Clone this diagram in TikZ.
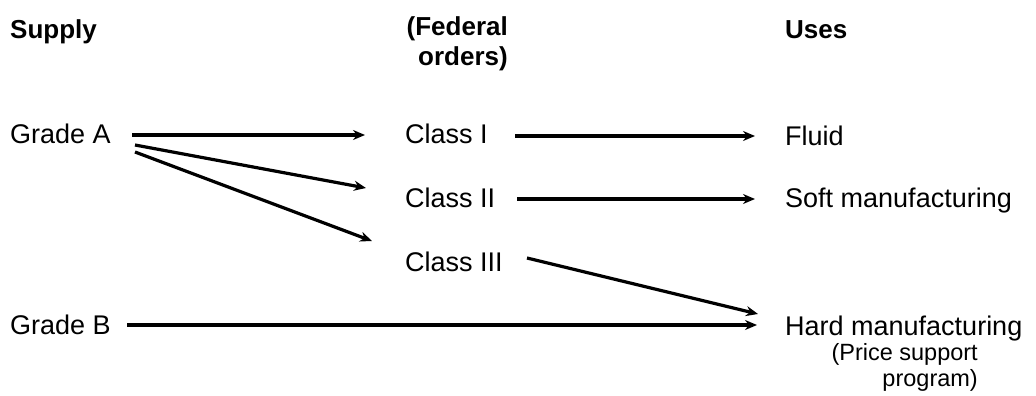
\documentclass[tikz,border=0pt]{standalone}
\usepackage{fontspec}
\setmainfont{Liberation Sans}
\usetikzlibrary{arrows.meta}
\tikzset{
  lbl/.style={inner sep=0pt, anchor=base west, font=\fontsize{27}{30}\selectfont},
  hdr/.style={inner sep=0pt, anchor=base west, font=\fontsize{26}{30}\selectfont\bfseries},
  note/.style={inner sep=0pt, font=\fontsize{23.5}{26}\selectfont, align=right},
  flow/.style={line width=3.2pt, -{Stealth[length=12pt,width=10pt]}}
}
\begin{document}
\begin{tikzpicture}[x=1pt,y=-1pt]
\useasboundingbox (0,0) rectangle (1036,396);
% headers
\node[hdr] (supply) at (10,39) {Supply};
\node[inner sep=0pt, anchor=north east, align=right, font=\fontsize{26}{30}\selectfont\bfseries] (federal) at (508,16) {(Federal\\orders)};
\node[hdr] (uses) at (785,39) {Uses};
% supply
\node[lbl] (gradeA) at (10,143) {Grade A};
\node[lbl] (gradeB) at (10,334) {Grade B};
% classes
\node[lbl] (c1) at (405,143) {Class I};
\node[lbl] (c2) at (405,207) {Class II};
\node[lbl] (c3) at (405,271) {Class III};
% uses
\node[lbl] (fluid) at (785,145) {Fluid};
\node[lbl] (soft) at (785,207) {Soft manufacturing};
\node[lbl] (hard) at (785,335) {Hard manufacturing};
\node[note, anchor=north east] (price) at (978,343) {(Price support\\program)};
% anchor coordinates for connectors
\coordinate (a1) at (132,135);
\coordinate (a2) at (135,145);
\coordinate (a3) at (135,152);
\coordinate (t1) at (365,135);
\coordinate (t2) at (366,188);
\coordinate (t3) at (372,241);
\coordinate (s1) at (515,136);
\coordinate (e1) at (755,136);
\coordinate (s2) at (517,199);
\coordinate (e2) at (755,199);
\coordinate (s3) at (527,258);
\coordinate (e3) at (758,314);
\coordinate (sb) at (127,325);
\coordinate (eb) at (757,325);
\draw[flow] (a1) -- (t1);
\draw[flow] (a2) -- (t2);
\draw[flow] (a3) -- (t3);
\draw[flow] (s1) -- (e1);
\draw[flow] (s2) -- (e2);
\draw[flow] (s3) -- (e3);
\draw[flow] (sb) -- (eb);
\end{tikzpicture}
\end{document}
